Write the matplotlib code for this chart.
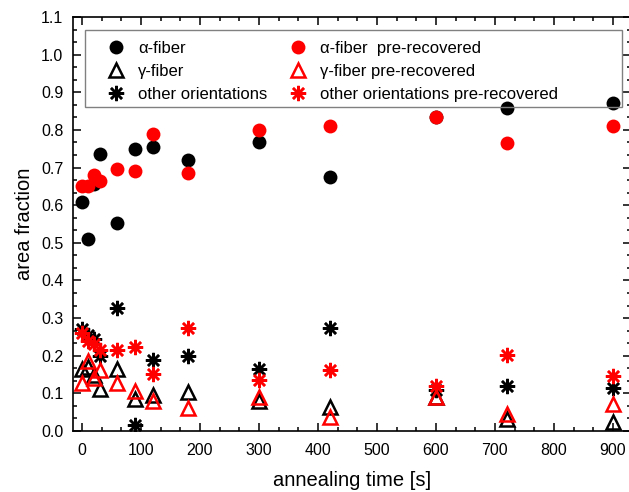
import matplotlib
matplotlib.use("Agg")
import matplotlib.pyplot as plt
from matplotlib.patches import Rectangle
from matplotlib.ticker import MultipleLocator, AutoMinorLocator

plt.rcParams['font.family'] = ['Liberation Sans', 'DejaVu Sans']

# annealing times [s]
times = [0, 10, 20, 30, 60, 90, 120, 180, 300, 420, 600, 720, 900]

# area fractions, as-deformed
alpha_fiber = [0.608, 0.51, 0.655, 0.735, 0.552, 0.748, 0.755, 0.72, 0.767, 0.675, 0.833, 0.857, 0.871]
gamma_fiber = [0.166, 0.17, 0.15, 0.112, 0.166, 0.086, 0.095, 0.104, 0.08, 0.064, 0.09, 0.033, 0.024]
other_orient = [0.27, 0.255, 0.245, 0.2, 0.328, 0.017, 0.188, 0.199, 0.166, 0.274, 0.108, 0.119, 0.113]

# area fractions, pre-recovered
alpha_fiber_pr = [0.652, 0.65, 0.679, 0.665, 0.697, 0.692, 0.79, 0.686, 0.80, 0.81, 0.833, 0.766, 0.81]
gamma_fiber_pr = [0.128, 0.185, 0.14, 0.161, 0.128, 0.106, 0.08, 0.062, 0.09, 0.037, 0.09, 0.046, 0.072]
other_orient_pr = [0.261, 0.24, 0.232, 0.215, 0.215, 0.224, 0.151, 0.273, 0.135, 0.163, 0.119, 0.201, 0.145]

labels = ['\u03b1-fiber', '\u03b3-fiber', 'other orientations',
          '\u03b1-fiber  pre-recovered', '\u03b3-fiber pre-recovered',
          'other orientations pre-recovered']

fig = plt.figure(figsize=(6.29, 4.92), dpi=100)
ax = fig.add_axes([0.1161, 0.124, 0.8865, 0.8415])

star = (8, 2, 0)
ax.plot(times, alpha_fiber, 'o', color='black', ms=10, mew=0, label=labels[0])
ax.plot(times, gamma_fiber, '^', mfc='none', mec='black', ms=9.5, mew=1.8, label=labels[1])
ax.plot(times, other_orient, ls='none', marker=star, color='black', ms=11, mew=1.8, label=labels[2])
ax.plot(times, alpha_fiber_pr, 'o', color='#ff0000', ms=10, mew=0, label=labels[3])
ax.plot(times, gamma_fiber_pr, '^', mfc='none', mec='#ff0000', ms=9.5, mew=1.8, label=labels[4])
ax.plot(times, other_orient_pr, ls='none', marker=star, color='#ff0000', ms=11, mew=1.8, label=labels[5])

ax.set_xlim(-15, 930)
ax.set_ylim(0, 1.1)
ax.xaxis.set_major_locator(MultipleLocator(100))
ax.xaxis.set_minor_locator(AutoMinorLocator(3))
ax.yaxis.set_major_locator(MultipleLocator(0.1))
ax.yaxis.set_minor_locator(AutoMinorLocator(3))
ax.yaxis.set_major_formatter(lambda v, p: f"{v:.1f}")

ax.tick_params(which='both', direction='in', top=True, right=True, width=1.1, labelsize=11.5)
ax.tick_params(which='major', length=5.5)
ax.tick_params(which='minor', length=3)
ax.tick_params(axis='x', pad=9)
ax.tick_params(axis='y', pad=7)
for s in ax.spines.values():
    s.set_linewidth(1.2)

ax.set_xlabel('annealing time [s]', fontsize=14.5, labelpad=9)
ax.set_ylabel('area fraction', fontsize=14.5, labelpad=5)

# legend box drawn separately so it can be wider than its entries
ax.add_patch(Rectangle((0.021, 0.782), 0.963, 0.187, transform=ax.transAxes,
                       fill=False, ec='#808080', lw=1.0, zorder=5))
ax.legend(loc='upper left', bbox_to_anchor=(0.0622, 0.942), ncol=2, frameon=False,
          fontsize=12, borderpad=0, borderaxespad=0, handlelength=1.0,
          handletextpad=0.82, columnspacing=1.35, labelspacing=0.48)

fig.savefig('out.png', dpi=100)
